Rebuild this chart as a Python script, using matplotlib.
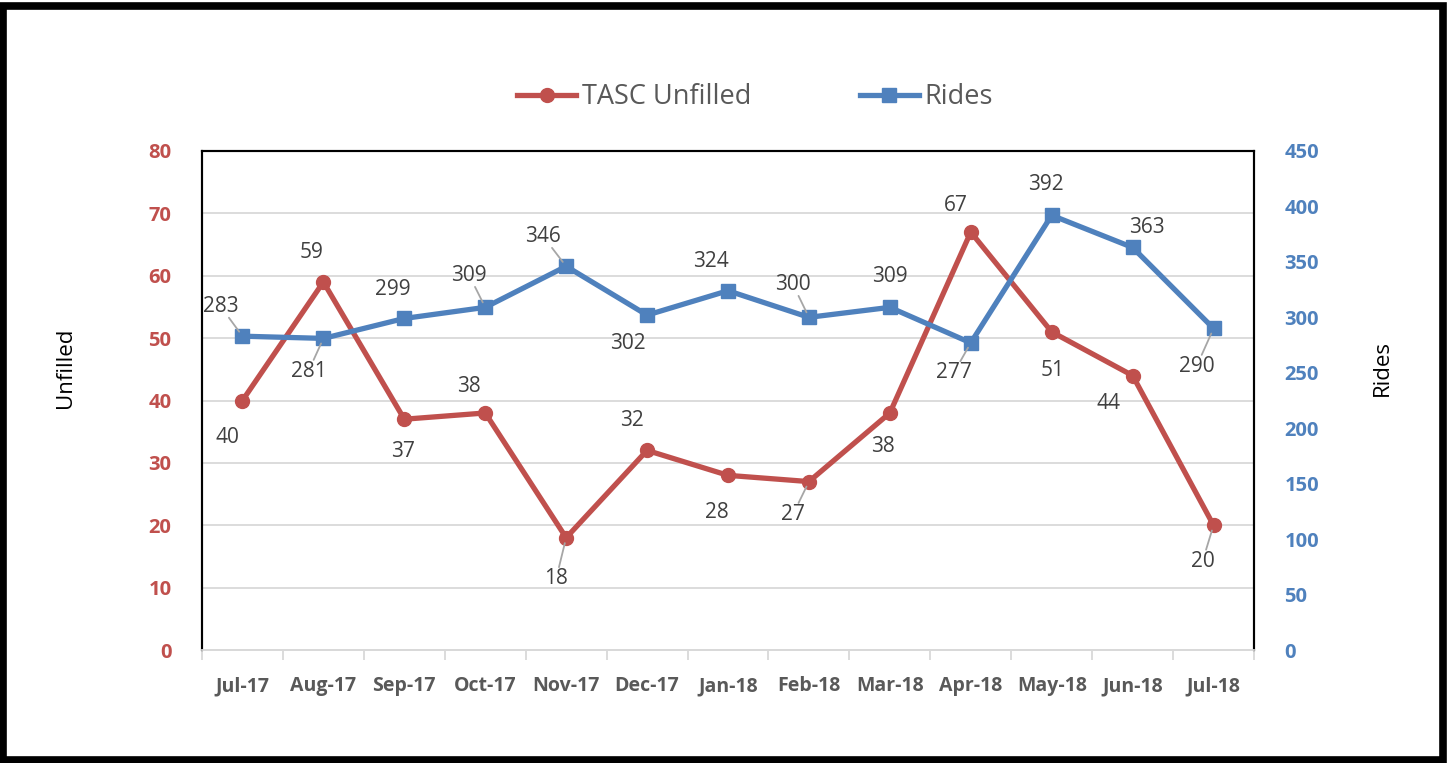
import matplotlib
matplotlib.use("Agg")
import matplotlib.pyplot as plt
from matplotlib.patches import Rectangle

plt.rcParams['font.family'] = ['Open Sans', 'DejaVu Sans']

months = ['Jul-17', 'Aug-17', 'Sep-17', 'Oct-17', 'Nov-17', 'Dec-17', 'Jan-18',
          'Feb-18', 'Mar-18', 'Apr-18', 'May-18', 'Jun-18', 'Jul-18']
unfilled = [40, 59, 37, 38, 18, 32, 28, 27, 38, 67, 51, 44, 20]
rides = [283, 281, 299, 309, 346, 302, 324, 300, 309, 277, 392, 363, 290]

RED = '#C0504D'
BLUE = '#4F81BD'
LABEL = '#404040'

# label offsets in pixels (dx, dy screen, y down) and whether a leader line shows
red_off = [(-15, 37, 0), (-12, -29, 0), (-1, 32, 0), (-16, -26, 0), (-10, 41, 1),
           (-15, -30, 0), (-11, 37, 0), (-16, 33, 1), (-7, 34, 0), (-15, -27, 0),
           (1, 39, 0), (-24, 28, 0), (-11, 36, 1)]
blue_off = [(-22, -30, 1), (-15, 33, 1), (-11, -29, 0), (-16, -32, 1), (-23, -30, 1),
            (-19, 28, 0), (-17, -29, 0), (-16, -33, 1), (0, -31, 0), (-17, 30, 1),
            (-6, -31, 0), (14, -20, 0), (-17, 38, 1)]

fig = plt.figure(figsize=(14.51, 7.63), dpi=100)
ax = fig.add_axes([202 / 1451, 1 - 650 / 763, (1254 - 202) / 1451, (650 - 151) / 763])
ax2 = ax.twinx()

x = list(range(len(months)))
l1, = ax.plot(x, unfilled, color=RED, lw=3.8, marker='o', ms=10, label='TASC Unfilled', zorder=3)
l2, = ax2.plot(x, rides, color=BLUE, lw=3.8, marker='s', ms=10, label='Rides', zorder=3)

ax.set_xlim(-0.5, len(months) - 0.5)
ax.set_ylim(0, 80)
ax2.set_ylim(0, 450)
ax.set_yticks(range(0, 81, 10))
ax2.set_yticks(range(0, 451, 50))
ax.grid(axis='y', color='#D9D9D9', lw=1.3)
ax.set_axisbelow(True)

ax.set_xticks([i - 0.5 for i in range(len(months) + 1)], minor=False)
ax.set_xticklabels([])
ax.set_xticks(x, minor=True)
ax.set_xticklabels(months, minor=True, fontsize=14, fontweight='bold', color='#595959')
ax.tick_params(axis='x', which='major', length=7, color='#D9D9D9', width=1.3)
ax.tick_params(axis='x', which='minor', length=0, pad=19)

ax.tick_params(axis='y', length=0, pad=22, labelsize=14.5, labelcolor=RED)
ax2.tick_params(axis='y', length=0, pad=22, labelsize=14.5, labelcolor=BLUE)
for t in ax.get_yticklabels():
    t.set_fontweight('bold')
for t in ax2.get_yticklabels():
    t.set_fontweight('bold')

for a in (ax, ax2):
    for s in ('left', 'top', 'right'):
        a.spines[s].set_color('black')
        a.spines[s].set_linewidth(1.5)
    a.spines['bottom'].set_color('#D9D9D9')
    a.spines['bottom'].set_linewidth(1.3)

ax.set_ylabel('Unfilled', fontsize=16, labelpad=52)
ax2.set_ylabel('Rides', fontsize=16, labelpad=38)
ax.yaxis.label.set_y(0.565)
ax2.yaxis.label.set_y(0.565)


def add_labels(axis, vals, offs):
    for i, (v, (dx, dy, lead)) in enumerate(zip(vals, offs)):
        props = None
        if lead:
            props = dict(arrowstyle='-', color='#A6A6A6', lw=1.3, shrinkA=0, shrinkB=4)
        axis.annotate(str(v), (i, v), xytext=(dx * 0.72, -dy * 0.72), textcoords='offset points',
                      ha='center', va='center', fontsize=15, color=LABEL,
                      bbox=dict(boxstyle='square,pad=0.05', fc='none', ec='none'),
                      arrowprops=props, zorder=4)


add_labels(ax, unfilled, red_off)
add_labels(ax2, rides, blue_off)

fig.legend(handles=[l1, l2], loc='center', bbox_to_anchor=(755 / 1451, 1 - 97 / 763),
           ncol=2, frameon=False, fontsize=19.5, handlelength=2.2, handletextpad=0.2,
           columnspacing=4.0, labelcolor='#595959')

fig.patches.append(Rectangle((3 / 1451, 3 / 763), 1440 / 1451, 754 / 763, transform=fig.transFigure,
                             fill=False, edgecolor='black', lw=5.5))

fig.savefig('out.png', dpi=100)
